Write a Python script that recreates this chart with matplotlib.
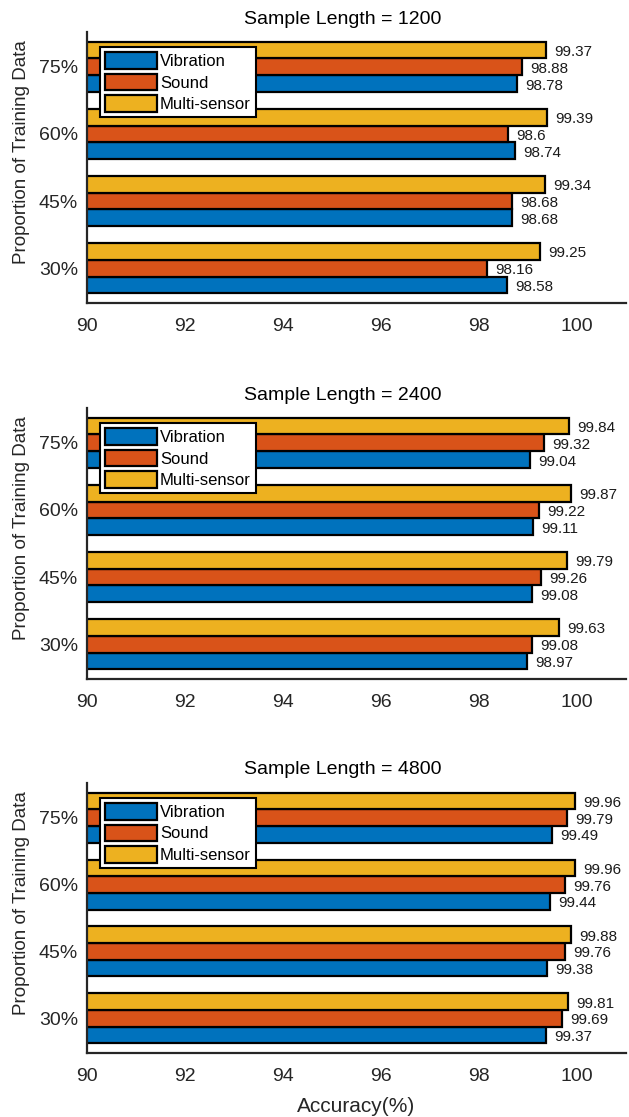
import matplotlib
matplotlib.use("Agg")
import matplotlib.pyplot as plt
import numpy as np
from matplotlib.patches import Patch

plt.rcParams["font.family"] = ["Liberation Sans", "DejaVu Sans"]

# ---- data ----
proportions = ["30%", "45%", "60%", "75%"]
series_names = ["Vibration", "Sound", "Multi-sensor"]
series_colors = ["#0072BD", "#D95319", "#EDB120"]
sample_lengths = [1200, 2400, 4800]

vib_1200 = [98.58, 98.68, 98.74, 98.78]
snd_1200 = [98.16, 98.68, 98.60, 98.88]
multi_1200 = [99.25, 99.34, 99.39, 99.37]

vib_2400 = [98.97, 99.08, 99.11, 99.04]
snd_2400 = [99.08, 99.26, 99.22, 99.32]
multi_2400 = [99.63, 99.79, 99.87, 99.84]

vib_4800 = [99.37, 99.38, 99.44, 99.49]
snd_4800 = [99.69, 99.76, 99.76, 99.79]
multi_4800 = [99.81, 99.88, 99.96, 99.96]

panels = [
    (1200, [vib_1200, snd_1200, multi_1200]),
    (2400, [vib_2400, snd_2400, multi_2400]),
    (4800, [vib_4800, snd_4800, multi_4800]),
]

xticks = [90, 92, 94, 96, 98, 100]

# ---- layout (figure pixels -> fractions) ----
W, H = 629, 1117
fig = plt.figure(figsize=(W / 100, H / 100), dpi=100)
left_px, right_px = 87, 626
panel_tops = [32, 408, 783]
panel_bottoms = [303, 679, 1053]

axis_col = "#262626"
bar_h = 0.25
offsets = [-bar_h, 0.0, bar_h]
ypos = np.arange(1, len(proportions) + 1)

for i, (length, values) in enumerate(panels):
    top, bot = panel_tops[i], panel_bottoms[i]
    ax = fig.add_axes([left_px / W, 1 - bot / H,
                       (right_px - left_px) / W, (bot - top) / H])
    for name, col, off, vals in zip(series_names, series_colors, offsets, values):
        ax.barh(ypos + off, vals, height=bar_h, color=col,
                edgecolor="black", linewidth=1.6, zorder=2)
        for y, v in zip(ypos + off, vals):
            ax.text(v + 0.17, y - 0.03, f"{v:g}", fontsize=11,
                    ha="left", va="center", color="#1a1a1a", zorder=3)

    ax.set_xlim(90, 101)
    ax.set_ylim(0.48, 4.52)
    ax.set_xticks(xticks)
    ax.set_xticklabels([str(t) for t in xticks])
    ax.set_yticks(ypos)
    ax.set_yticklabels(proportions)
    ax.tick_params(axis="x", length=0, pad=10.5, labelsize=14, colors=axis_col)
    ax.tick_params(axis="y", length=0, pad=6.5, labelsize=14, colors=axis_col)
    for s in ["top", "right"]:
        ax.spines[s].set_visible(False)
    for s in ["left", "bottom"]:
        ax.spines[s].set_color(axis_col)
        ax.spines[s].set_linewidth(1.6)
        ax.spines[s].set_zorder(4)

    h = bot - top
    w = right_px - left_px
    ax.text((244 - left_px) / w, 1 + 13 / h, f"Sample Length = {length}",
            transform=ax.transAxes, ha="left", va="center", fontsize=14,
            color="black")
    ax.text((22 - left_px) / w, (bot - (top + 120)) / h,
            "Proportion of Training Data", transform=ax.transAxes,
            rotation=90, ha="center", va="center", fontsize=13.5, color=axis_col)

    handles = [Patch(facecolor=c, edgecolor="black", linewidth=1.6)
               for c in series_colors]
    leg = ax.legend(handles, series_names, loc="upper left",
                    bbox_to_anchor=(13 / w, 1 - 15 / h), borderaxespad=0,
                    fontsize=12, handlelength=3.1, handleheight=1.15,
                    handletextpad=0.2, labelspacing=0.28, borderpad=0.3,
                    fancybox=False, framealpha=1, edgecolor="black")
    leg.get_frame().set_linewidth(1.5)
    leg.set_zorder(5)

    if i == len(panels) - 1:
        ax.text(0.5, -(1106 - bot) / h, "Accuracy(%)", transform=ax.transAxes,
                ha="center", va="center", fontsize=15, color=axis_col)

fig.savefig("out.png", dpi=100, facecolor="white")
